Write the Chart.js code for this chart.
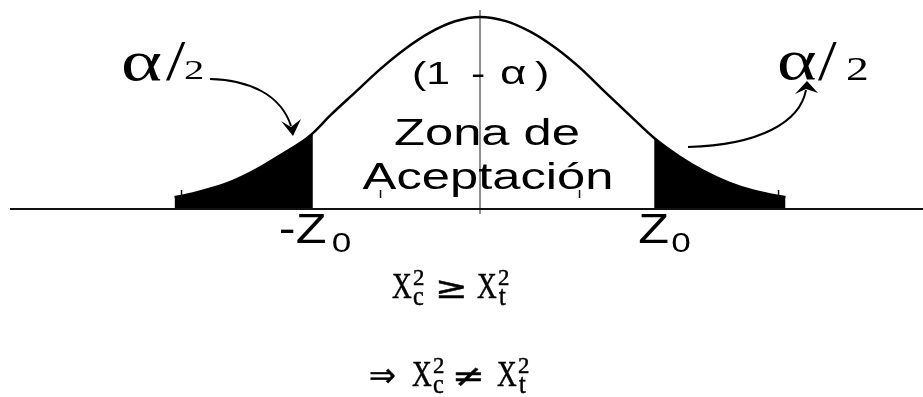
<!DOCTYPE html>
<html>
<head>
<meta charset="utf-8">
<script src="https://cdn.jsdelivr.net/npm/chart.js@4"></script>
<style>
  html, body { margin: 0; padding: 0; background: #fff; }
  #wrap { position: relative; width: 923px; height: 397px; overflow: hidden; }
  #wrap canvas { position: absolute; left: 0; top: 0; }
  .eq { position: absolute; white-space: nowrap; color: #000; line-height: 1; transform-origin: 0 0;
        -webkit-text-stroke: 0.5px #000; }
</style>
</head>
<body>
<div id="wrap"><canvas id="bellChart" width="923" height="397"></canvas></div>
<script>
/******* curve (z in tick units) *******/
var zValues = [-3.07, -3, -2.75, -2.5, -2.25, -2, -1.75, -1.68, -1.5, -1.25, -1, -0.75, -0.5, -0.25, 0,
               0.25, 0.5, 0.75, 1, 1.25, 1.5, 1.75, 2, 2.25, 2.5, 2.75, 3, 3.07];
var density = [0.025, 0.027, 0.040, 0.057, 0.082, 0.113, 0.146, 0.158, 0.196, 0.244, 0.292, 0.334, 0.368, 0.391, 0.400,
               0.392, 0.370, 0.337, 0.295, 0.245, 0.196, 0.148, 0.110, 0.079, 0.055, 0.038, 0.027, 0.025];
var tickMarks = [-3, -1, 1, 3];
var leftCut = -1.68;
var rightCut = 1.75;

var curve = zValues.map(function (z, i) { return { x: z, y: density[i] }; });
var leftTail = curve.filter(function (p) { return p.x <= leftCut; });
var rightTail = curve.filter(function (p) { return p.x >= rightCut; });

// stretched text, the old figure is wider than it is tall
function sText(ctx, txt, x, y, font, sx, align) {
  ctx.save();
  ctx.translate(x, y);
  ctx.scale(sx, 1);
  ctx.font = font;
  ctx.textAlign = align || 'left';
  ctx.textBaseline = 'alphabetic';
  ctx.fillStyle = '#000';
  ctx.fillText(txt, 0, 0);
  ctx.restore();
}

function arrowHead(ctx, tip, b1, inner, b2) {
  ctx.beginPath();
  ctx.moveTo(tip[0], tip[1]);
  ctx.lineTo(b1[0], b1[1]);
  ctx.lineTo(inner[0], inner[1]);
  ctx.lineTo(b2[0], b2[1]);
  ctx.closePath();
  ctx.fill();
}

var figurePlugin = {
  id: 'figure',
  beforeDatasetsDraw: function (chart) {
    var ctx = chart.ctx, xs = chart.scales.x;
    var cx = xs.getPixelForValue(0);
    ctx.save();
    ctx.strokeStyle = '#8f8f8f';
    ctx.lineWidth = 2;
    ctx.beginPath();
    ctx.moveTo(cx, 10);
    ctx.lineTo(cx, 214);
    ctx.stroke();
    ctx.restore();
  },
  afterDatasetsDraw: function (chart) {
    var ctx = chart.ctx, xs = chart.scales.x, ys = chart.scales.y;
    var base = ys.getPixelForValue(0);
    ctx.save();
    // axis line
    ctx.strokeStyle = '#111';
    ctx.lineWidth = 2;
    ctx.beginPath();
    ctx.moveTo(chart.chartArea.left, base);
    ctx.lineTo(chart.chartArea.right, base);
    ctx.stroke();
    // little floating ticks
    ctx.lineWidth = 1.5;
    tickMarks.forEach(function (t) {
      var px = xs.getPixelForValue(t);
      ctx.beginPath();
      ctx.moveTo(px, base - 19);
      ctx.lineTo(px, base - 11);
      ctx.stroke();
    });

    // centre texts
    var sans = '"Liberation Sans", Arial, sans-serif';
    sText(ctx, '(1', 412, 84, '31px ' + sans, 1.38);
    sText(ctx, '-', 471, 84, '31px ' + sans, 1.38);
    sText(ctx, 'α', 500, 84, '33px ' + sans, 1.38);
    sText(ctx, ')', 535, 84, '31px ' + sans, 1.38);
    sText(ctx, 'Zona de', 487, 145, '37px ' + sans, 1.37, 'center');
    sText(ctx, 'Aceptación', 488, 189, '37px ' + sans, 1.37, 'center');

    // cut labels
    var lx = xs.getPixelForValue(leftCut), rx = xs.getPixelForValue(rightCut);
    sText(ctx, '-Z', lx - 34, 243, '42px ' + sans, 1.2);
    sText(ctx, '0', lx + 19, 252, '27px ' + sans, 1.3);
    sText(ctx, 'Z', rx - 16, 243, '42px ' + sans, 1.2);
    sText(ctx, '0', rx + 17, 252, '27px ' + sans, 1.3);

    // alpha/2 labels
    var serif = '"Liberation Serif", "Times New Roman", serif';
    sText(ctx, 'α', 121, 80, '58px ' + serif, 1.35);
    sText(ctx, '/', 166, 80, '58px ' + serif, 1.2);
    sText(ctx, '2', 184, 79, '28px ' + serif, 1.45);
    sText(ctx, 'α', 777, 79, '56px ' + serif, 1.35);
    sText(ctx, '/', 818, 80, '56px ' + serif, 1.2);
    sText(ctx, '2', 846, 80, '33px ' + serif, 1.38);

    // arrows
    ctx.strokeStyle = '#000';
    ctx.fillStyle = '#000';
    ctx.lineWidth = 2;
    ctx.beginPath();
    ctx.moveTo(210, 79);
    ctx.bezierCurveTo(250, 80, 281, 95, 291, 126);
    ctx.stroke();
    arrowHead(ctx, [293, 136], [281, 121], [291, 127], [301, 119]);

    ctx.beginPath();
    ctx.moveTo(688, 147);
    ctx.bezierCurveTo(760, 145, 800, 122, 806, 90);
    ctx.stroke();
    arrowHead(ctx, [807, 81], [795, 94], [806, 89], [818, 93]);
    ctx.restore();
  }
};

var ctx = document.getElementById('bellChart');
var bellChart = new Chart(ctx, {
  type: 'scatter',
  data: {
    datasets: [
      {
        data: leftTail,
        showLine: true,
        fill: 'origin',
        backgroundColor: '#000',
        borderWidth: 0,
        pointRadius: 0,
        cubicInterpolationMode: 'monotone'
      },
      {
        data: rightTail,
        showLine: true,
        fill: 'origin',
        backgroundColor: '#000',
        borderWidth: 0,
        pointRadius: 0,
        cubicInterpolationMode: 'monotone'
      },
      {
        data: curve,
        showLine: true,
        fill: false,
        borderColor: '#000',
        borderWidth: 2.5,
        pointRadius: 0,
        cubicInterpolationMode: 'monotone'
      }
    ]
  },
  options: {
    responsive: false,
    animation: false,
    devicePixelRatio: 1,
    layout: { padding: { left: 10, right: 0, top: 0, bottom: 188 } },
    plugins: { legend: { display: false }, tooltip: { enabled: false } },
    scales: {
      x: { type: 'linear', min: -4.724, max: 4.452, display: false },
      y: { min: 0, max: 0.4354, display: false }
    }
  },
  plugins: [figurePlugin]
});

/******* formulas under the chart *******/
var wrap = document.getElementById('wrap');
function put(txt, x, baseline, size, family, sx) {
  var s = document.createElement('span');
  s.className = 'eq';
  s.textContent = txt;
  s.style.fontSize = size + 'px';
  s.style.fontFamily = family;
  s.style.left = x + 'px';
  s.style.top = (baseline - 0.84 * size) + 'px';
  if (sx) s.style.transform = 'scaleX(' + sx + ')';
  wrap.appendChild(s);
}
var mathFont = '"Liberation Serif", "DejaVu Serif", serif';
var symFont = '"DejaVu Sans", sans-serif';
// line 1
put('X', 392, 298, 35, mathFont, 0.78);
put('2', 413, 285, 24, mathFont, 0.95);
put('c', 413, 306, 27, mathFont, 0.9);
put('≥', 435, 298, 30, symFont, 1.3);
put('X', 477, 298, 35, mathFont, 0.78);
put('2', 498, 285, 24, mathFont, 0.95);
put('t', 499, 306, 27, mathFont, 0.9);
// line 2
put('⇒', 369, 386, 32, symFont, 1.0);
put('X', 412, 386, 35, mathFont, 0.78);
put('2', 433, 373, 24, mathFont, 0.95);
put('c', 433, 394, 27, mathFont, 0.9);
put('≠', 452, 386, 30, symFont, 1.3);
put('X', 497, 386, 35, mathFont, 0.78);
put('2', 518, 373, 24, mathFont, 0.95);
put('t', 519, 394, 27, mathFont, 0.9);
</script>
</body>
</html>
